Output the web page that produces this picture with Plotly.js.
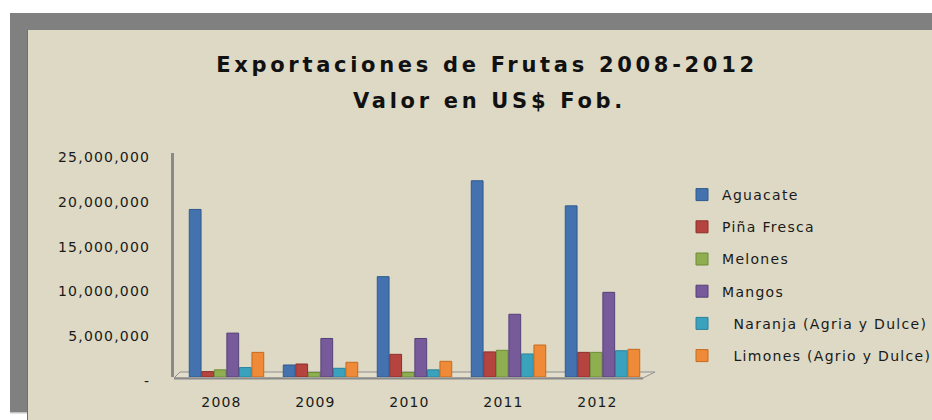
<!DOCTYPE html>
<html>
<head>
<meta charset="utf-8">
<script src="https://cdn.plot.ly/plotly-3.0.1.min.js"></script>
<style>
  html, body { margin: 0; padding: 0; background: #ffffff; }
  #chart { width: 932px; height: 420px; }
  .gtitle, .annotation-text { letter-spacing: 3.7px; }
  .xtick text, .ytick text { letter-spacing: 1.2px; }
  .legendtext { letter-spacing: 1.3px; }
</style>
</head>
<body>
<div id="chart"></div>
<script>
const years = ['2008', '2009', '2010', '2011', '2012'];
const seriesNames = ['Aguacate', 'Piña Fresca', 'Melones', 'Mangos', '\u00a0\u00a0Naranja (Agria y Dulce)', '\u00a0\u00a0Limones (Agrio y Dulce)'];
const aguacate = [18700000, 1340000, 11200000, 21900000, 19100000];
const pinaFresca = [600000, 1450000, 2530000, 2800000, 2750000];
const melones = [800000, 500000, 500000, 2980000, 2750000];
const mangos = [4900000, 4300000, 4300000, 7000000, 9450000];
const naranja = [1050000, 970000, 800000, 2570000, 2930000];
const limones = [2750000, 1640000, 1750000, 3570000, 3090000];
const yTickVals = [0, 5000000, 10000000, 15000000, 20000000, 25000000];
const yTickText = ['-', '5,000,000', '10,000,000', '15,000,000', '20,000,000', '25,000,000'];
const titleLine1 = 'Exportaciones de Frutas 2008-2012';
const titleLine2 = 'Valor en US$ Fob.';

const fills = ['#4472AE', '#B5433F', '#8FAE4F', '#765A9A', '#3BA2BE', '#EE8A38'];
const edges = ['#2F5A8E', '#8E2F2C', '#6E8C36', '#56407A', '#27829C', '#C66A1E'];
const values = [aguacate, pinaFresca, melones, mangos, naranja, limones];

const traces = values.map((v, i) => ({
  type: 'bar',
  name: seriesNames[i],
  x: years,
  y: v,
  legendgroup: 'g' + i,
  marker: { color: fills[i], line: { color: edges[i], width: 1 } },
  hoverinfo: 'skip'
}));

// plot-area pixel frame
const W = 932, H = 420;
const L = 174, R = 932, T = 153, B = 377;
const px = x => (x - L) / (R - L);
const py = y => (B - y) / (B - T);
const catPx = 94;             // pixels per category
const r0 = -0.5585;
const r1 = r0 + (R - L) / catPx;

const shapes = [
  { type: 'rect', xref: 'paper', yref: 'paper', x0: px(10), x1: px(932), y0: py(13), y1: py(412), fillcolor: '#808080', line: { width: 0 }, layer: 'below' },
  { type: 'rect', xref: 'paper', yref: 'paper', x0: px(10), x1: px(28), y0: py(412), y1: py(413.5), fillcolor: '#c4c4c4', line: { width: 0 }, layer: 'below' },
  { type: 'rect', xref: 'paper', yref: 'paper', x0: px(27), x1: px(932), y0: py(30), y1: py(420), fillcolor: '#6f6f6f', line: { width: 0 }, layer: 'below' },
  { type: 'rect', xref: 'paper', yref: 'paper', x0: px(28), x1: px(932), y0: py(30), y1: py(420), fillcolor: '#DDD9C4', line: { width: 0 }, layer: 'below' },
  { type: 'path', xref: 'paper', yref: 'paper', layer: 'below',
    path: 'M' + px(174) + ',' + py(378) + ' L' + px(643) + ',' + py(378) + ' L' + px(655) + ',' + py(372) + ' L' + px(180) + ',' + py(372) + ' Z',
    fillcolor: '#E2DECB', line: { color: '#8f8f8f', width: 1 } },
  { type: 'line', xref: 'paper', yref: 'paper', layer: 'below',
    x0: px(174), x1: px(643), y0: py(378.5), y1: py(378.5), line: { color: '#8a8a8a', width: 2 } }
];

const titleFont = { family: 'DejaVu Sans, Verdana, sans-serif', size: 21, weight: 700, color: '#111111' };

const layout = {
  width: W, height: H,
  margin: { l: L, r: W - R, t: T, b: H - B, pad: 0, autoexpand: false },
  paper_bgcolor: '#ffffff',
  plot_bgcolor: 'rgba(0,0,0,0)',
  font: { family: 'DejaVu Sans, Verdana, sans-serif', color: '#1a1a1a', size: 14 },
  title: {
    text: titleLine1,
    font: titleFont,
    x: 487 / W, xref: 'container', xanchor: 'center',
    y: 1 - 64.3 / H, yref: 'container', yanchor: 'middle'
  },
  annotations: [{
    text: titleLine2, font: titleFont, showarrow: false,
    xref: 'paper', yref: 'paper', x: px(489), y: py(101), xanchor: 'center', yanchor: 'middle'
  }],
  barmode: 'group',
  bargap: 0.2,
  bargroupgap: 0.06,
  showlegend: true,
  legend: {
    x: px(682), y: py(179), xanchor: 'left', yanchor: 'top',
    xref: 'paper', yref: 'paper',
    bgcolor: 'rgba(0,0,0,0)',
    font: { family: 'DejaVu Sans, Verdana, sans-serif', size: 14, color: '#1a1a1a' },
    tracegroupgap: 11,
    traceorder: 'grouped'
  },
  xaxis: {
    type: 'category',
    range: [r0, r1],
    showgrid: false, zeroline: false, showline: false,
    ticks: '', ticklabelstandoff: 15, ticklabelshift: -5,
    tickfont: { family: 'DejaVu Sans, Verdana, sans-serif', size: 14, color: '#1a1a1a' },
    fixedrange: true
  },
  yaxis: {
    range: [0, 25000000],
    tickvals: yTickVals, ticktext: yTickText,
    showgrid: false, zeroline: false,
    showline: true, linecolor: '#8a8a8a', linewidth: 3,
    ticks: '', ticklabelstandoff: 18, ticklabelshift: 4,
    tickfont: { family: 'DejaVu Sans, Verdana, sans-serif', size: 14, color: '#1a1a1a' },
    fixedrange: true
  },
  shapes: shapes
};

Plotly.newPlot('chart', traces, layout, { displayModeBar: false, staticPlot: true });
</script>
</body>
</html>
